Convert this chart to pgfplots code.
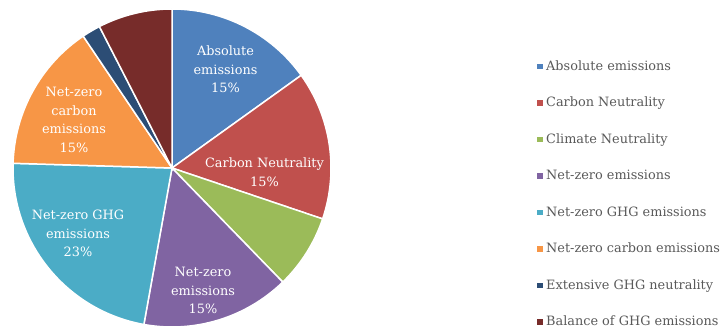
\documentclass[border=0pt]{standalone}
\usepackage{pgfplots}
\usepackage{pgfplotstable}
\usepackage{fontspec}
\setmainfont{DejaVu Serif}
\pgfplotsset{compat=1.18}
\definecolor{c0}{HTML}{4F81BD}
\definecolor{c1}{HTML}{C0504D}
\definecolor{c2}{HTML}{9BBB59}
\definecolor{c3}{HTML}{8064A2}
\definecolor{c4}{HTML}{4BACC6}
\definecolor{c5}{HTML}{F79646}
\definecolor{c6}{HTML}{2C4D75}
\definecolor{c7}{HTML}{772C2A}
\definecolor{legtext}{HTML}{595959}
\pgfplotstableread[col sep=comma]{
label,value
Absolute emissions,2
Carbon Neutrality,2
Climate Neutrality,1
Net-zero emissions,2
Net-zero GHG emissions,3
Net-zero carbon emissions,2
Extensive GHG neutrality,0.25
Balance of GHG emissions,1
}\piedata
\begin{document}
\begin{tikzpicture}
\def\total{0}
\pgfplotsforeachungrouped \i in {0,...,7}{%
  \pgfplotstablegetelem{\i}{value}\of\piedata
  \pgfmathsetmacro\total{\total+\pgfplotsretval}%
}
\def\cum{0}
\pgfplotsforeachungrouped \i in {0,...,7}{%
  \pgfplotstablegetelem{\i}{value}\of\piedata
  \pgfmathsetmacro\sa{90-360*\cum/\total}%
  \expandafter\let\csname sa\i\endcsname\sa
  \pgfmathsetmacro\cum{\cum+\pgfplotsretval}%
  \pgfmathsetmacro\ea{90-360*\cum/\total}%
  \expandafter\let\csname ea\i\endcsname\ea
}
\begin{axis}[
  x=1bp, y=1bp,
  xmin=0, xmax=723, ymin=0, ymax=331,
  hide axis, scale only axis,
  clip=false,
  legend style={at={(axis cs:533,272)}, anchor=north west, draw=none, fill=none,
    inner sep=0pt, row sep=21.5bp, text=legtext,
    font=\fontsize{12.9}{15}\selectfont,
    nodes={inner sep=1bp, text height=10bp, text depth=3bp}},
  legend cell align=left,
  legend image code/.code={\path[draw=none,fill=none] (0bp,0bp) -- (12bp,0bp);\fill[#1,draw=none] (4bp,-2.8bp) rectangle (9.6bp,2.8bp);},
]
\path (axis cs:0,0) rectangle (axis cs:723,331);
\pgfplotsinvokeforeach{0,...,7}{%
  \edef\tmp{\noexpand\filldraw[fill=c#1, draw=white, line width=1.5bp]
    (axis cs:172,163) -- ++(\csname sa#1\endcsname:159bp)
    arc[start angle=\csname sa#1\endcsname, end angle=\csname ea#1\endcsname, radius=159bp] -- cycle;}%
  \tmp
}
\addlegendimage{c0}\addlegendentry{Absolute emissions}
\addlegendimage{c1}\addlegendentry{Carbon Neutrality}
\addlegendimage{c2}\addlegendentry{Climate Neutrality}
\addlegendimage{c3}\addlegendentry{Net-zero emissions}
\addlegendimage{c4}\addlegendentry{Net-zero GHG emissions}
\addlegendimage{c5}\addlegendentry{Net-zero carbon emissions}
\addlegendimage{c6}\addlegendentry{Extensive GHG neutrality}
\addlegendimage{c7}\addlegendentry{Balance of GHG emissions}
\begin{scope}[every node/.style={text=white, align=center, font=\fontsize{12.9}{18.7}\selectfont}]
\node at (axis cs:225.5,261.5) {Absolute\\emissions\\15\%};
\node at (axis cs:264.5,159) {Carbon Neutrality\\15\%};
\node at (axis cs:203,40.5) {Net-zero\\emissions\\15\%};
\node at (axis cs:78,97.5) {Net-zero GHG\\emissions\\23\%};
\node at (axis cs:74,211) {Net-zero\\carbon\\emissions\\15\%};
\end{scope}
\end{axis}
\end{tikzpicture}
\end{document}
